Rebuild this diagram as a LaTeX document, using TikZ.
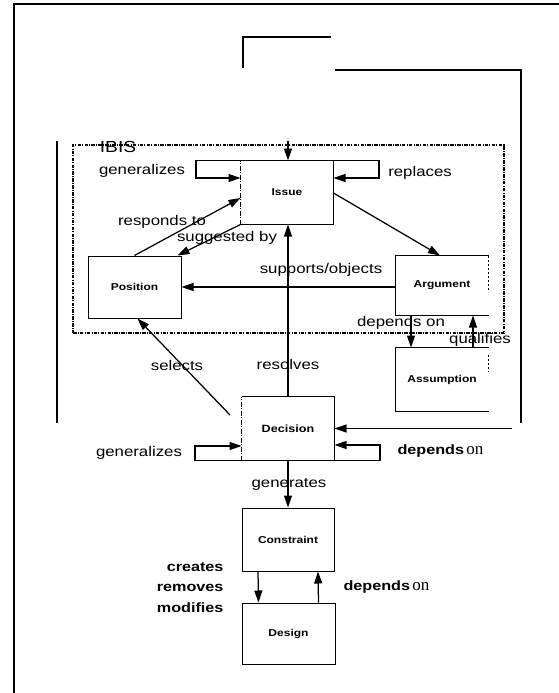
\documentclass[tikz,border=0pt]{standalone}
\usepackage{fontspec}
\setmainfont{Liberation Sans}
\newfontfamily\labfont[FakeStretch=1.2]{Liberation Sans}
\newfontfamily\serfont{Liberation Serif}
\usetikzlibrary{arrows.meta,calc}
\begin{document}
\begin{tikzpicture}[x=1pt,y=-1pt,
  line width=1pt,
  arr/.style={-{Triangle[length=12pt,width=8pt]}, line width=1.25pt},
  plain/.style={line width=1.2pt},
  box/.style={draw=none, minimum width=92pt, minimum height=63pt, inner sep=0pt,
    font=\labfont\bfseries\fontsize{10}{12}\selectfont},
  sbox/.style={box, draw, line width=1pt},
  lab/.style={font=\labfont\fontsize{14}{16}\selectfont, inner sep=0pt},
  blab/.style={font=\labfont\bfseries\fontsize{13.5}{15}\selectfont, inner sep=0pt},
  side/.style={line width=1pt},
  dside/.style={line width=1pt, dash pattern=on 5pt off 1.5pt on 1pt off 1.5pt},
  dotside/.style={line width=1pt, dash pattern=on 2pt off 2pt},
  ibis/.style={line width=1.2pt, dash pattern=on 3.5pt off 1.2pt on 1pt off 1.2pt},
]
\useasboundingbox (0,0) rectangle (559,693);
\fill[white] (0,0) rectangle (559,693);

% outer frame (left and top edges)
\coordinate (fbl) at (14,693);
\coordinate (ftl) at (14,4);
\coordinate (ftr) at (559,4);
\draw[line width=1.1pt] (fbl) -- (ftl) -- (ftr);

% IBIS frame
\node[draw, ibis, minimum width=431pt, minimum height=188pt, inner sep=0pt] (ibisbox) at (288.5,239) {};
\node[font=\labfont\fontsize{16}{18}\selectfont, inner sep=0pt] (ibislab) at (118,147) {IBIS};

% boxes
\node[box] (issue) at (287,192.5) {Issue};
\node[sbox, minimum width=93pt, minimum height=62pt] (position) at (134.5,287) {Position};
\node[box, minimum height=59pt] (argument) at (442,285.5) {Argument};
\node[box] (assumption) at (442,379.5) {Assumption};
\node[box, font=\labfont\bfseries\fontsize{10.5}{12}\selectfont] (decision) at (288,428.5) {Decision};
\node[sbox] (constraint) at (288,539.5) {Constraint};
\node[sbox, minimum width=93pt, minimum height=61pt] (design) at (288.5,633.5) {Design};

% box outlines with scanned-looking sides
\draw[side] (issue.north west) -- (issue.north east) -- (issue.south east) -- (issue.south west);
\draw[dside] (issue.south west) -- (issue.north west);
\draw[side] (argument.north east) -- (argument.north west) -- (argument.south west) -- (argument.south east);
\draw[dotside] (argument.north east) -- ($(argument.north east)+(0,36)$);
\draw[side] (assumption.north east) -- (assumption.north west) -- (assumption.south west) -- (assumption.south east);
\draw[dotside] ($(assumption.north east)+(0,7)$) -- ($(assumption.north east)+(0,24)$);
\draw[side] (decision.north west) -- (decision.north east) -- (decision.south east) -- (decision.south west);
\draw[dside] (decision.south west) -- (decision.north west);

% free lines at the top and sides
\coordinate (t1) at (243,68);
\coordinate (t2) at (243,37);
\coordinate (t3) at (331,37);
\draw[plain] (t1) -- (t2) -- (t3);
\coordinate (r1) at (335,70);
\coordinate (r2) at (521,70);
\coordinate (r3) at (521,423);
\draw[plain] (r1) -- (r2) -- (r3);
\coordinate (l1) at (57,141);
\coordinate (l2) at (57,423);
\draw[plain] (l1) -- (l2);

% connectors
\coordinate (itop) at (288,141);
\draw[arr] (itop) -- (itop |- issue.north);

\coordinate (g1) at (196,178);
\draw[arr] (issue.north west) -| (g1) -- (g1 -| issue.west);
\coordinate (rp1) at (379,178);
\draw[arr] (issue.north east) -| (rp1) -- (rp1 -| issue.east);

\draw[arr] (position.north) -- ($(issue.west)+(0,5.5)$);
\draw[arr] (issue.south west) -- ($(position.north east)+(-4,0)$);
\draw[arr] ($(issue.east)+(0,0.5)$) -- ($(argument.north)+(-2,0)$);
\draw[arr] (argument.west |- position.east) -- (position.east);
\draw[arr] (decision.north) -- (decision.north |- issue.south);
\coordinate (sel) at (230,415);
\draw[arr] (sel) -- ($(position.south)+(3,0)$);

\draw[arr] ($(argument.south)+(-31,0)$) -- ($(assumption.north)+(-31,0)$);
\draw[arr] ($(assumption.north)+(31,0)$) -- ($(argument.south)+(31,0)$);

\coordinate (dg1) at (195,446);
\draw[arr] (decision.south west) -| (dg1) -- (dg1 -| decision.west);
\coordinate (dd1) at (380,445);
\draw[arr] (decision.south east) -| (dd1) -- (dd1 -| decision.east);
\coordinate (din) at (512,428.5);
\draw[arr] (din) -- (decision.east);

\draw[arr] (decision.south) -- (constraint.north);
\draw[arr] ($(constraint.south)+(-30,0)$) -- ($(design.north)+(-30,0)$);
\draw[arr] ($(design.north)+(30,0)$) -- ($(constraint.south)+(30,0)$);

% labels
\node[lab] (lgen1) at (142,171) {generalizes};
\node[lab] (lrep) at (420,173) {replaces};
\node[lab] (lresp) at (162,222) {responds to};
\node[lab] (lsugg) at (227,238) {suggested by};
\node[lab] (lsup) at (321,270) {supports/objects};
\node[lab] (ldep1) at (401,323) {depends on};
\node[lab] (lqual) at (480,340) {qualifies};
\node[lab] (lsel) at (177,365) {selects};
\node[lab] (lres) at (288,364) {resolves};
\node[lab] (lgen2) at (139,453) {generalizes};
\node[blab, anchor=west] (ldep2) at (397,451) {depends\,{\serfont\mdseries\fontsize{17}{18}\selectfont on}};
\node[lab] (lgenr) at (289,484) {generates};
\node[blab, anchor=east] (lcre) at (224,567) {creates};
\node[blab, anchor=east] (lrem) at (224,588) {removes};
\node[blab, anchor=east] (lmod) at (224,608) {modifies};
\node[blab, anchor=west] (ldep3) at (343,587) {depends\,{\serfont\mdseries\fontsize{17}{18}\selectfont on}};
\end{tikzpicture}
\end{document}
